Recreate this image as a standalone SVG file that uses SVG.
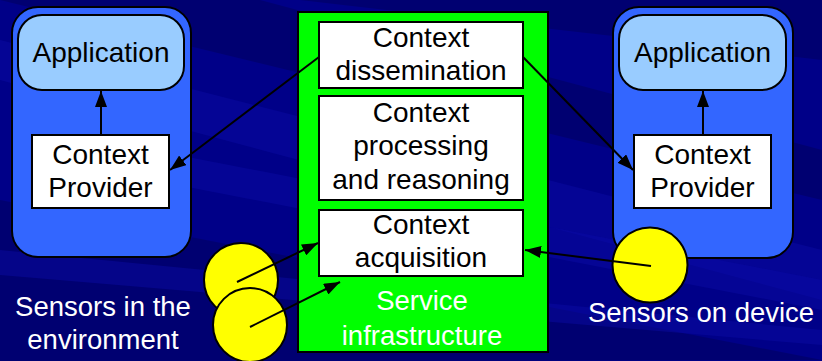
<svg xmlns="http://www.w3.org/2000/svg" width="822" height="361" viewBox="0 0 822 361">
<defs>
<style>
.bg{fill:#000088}
.streak{fill:#0c0ca6;opacity:0.45}
.dark{fill:#00005e;opacity:0.55}
.dev{fill:#3366ff;stroke:#000;stroke-width:2}
.app{fill:#99ccff;stroke:#000;stroke-width:2}
.box{fill:#fff;stroke:#000;stroke-width:2}
.infra{fill:#00ff00;stroke:#000;stroke-width:2}
.sensor{fill:#ffff00;stroke:#000;stroke-width:2}
.t{font-family:"Liberation Sans",Arial,sans-serif;font-size:28px;fill:#000;text-anchor:middle}
.w{font-family:"Liberation Sans",Arial,sans-serif;font-size:27.5px;fill:#fff;text-anchor:middle}
.c{fill:none;stroke:#000;stroke-width:2}
</style>
<marker id="ah" viewBox="0 0 16 12" refX="16" refY="6" markerWidth="8" markerHeight="6" orient="auto" markerUnits="strokeWidth">
<path d="M0,0 L16,6 L0,12 z" fill="#000"/>
</marker>
</defs>
<rect class="bg" x="0" y="0" width="822" height="361"/>
<polygon class="dark" points="0,0 822,0 822,60 300,0"/>
<polygon class="dark" points="0,0 260,0 822,150 822,200"/>
<polygon class="streak" points="0,40 822,250 822,300 0,80"/>
<polygon class="streak" points="100,140 822,280 822,310 100,170"/>
<polygon class="dark" points="0,200 822,360 0,361"/>
<polygon class="streak" points="0,250 822,330 822,345 0,275"/>

<g id="left-device">
<rect class="dev" x="12" y="7" width="179" height="250" rx="26"/>
</g>
<g id="left-application">
<rect class="app" x="18" y="15" width="166" height="75" rx="24"/>
<text class="t" x="101" y="62">Application</text>
</g>
<g id="left-provider">
<rect class="box" x="32" y="135" width="137" height="73"/>
<text class="t" x="100.5" y="164">Context</text>
<text class="t" x="100.5" y="197">Provider</text>
</g>

<g id="right-device">
<rect class="dev" x="613" y="7" width="180" height="251" rx="26"/>
</g>
<g id="right-application">
<rect class="app" x="619" y="15" width="167" height="75" rx="24"/>
<text class="t" x="702.5" y="62">Application</text>
</g>
<g id="right-provider">
<rect class="box" x="634" y="135" width="137" height="73"/>
<text class="t" x="702.5" y="164">Context</text>
<text class="t" x="702.5" y="197">Provider</text>
</g>

<g id="service-infrastructure">
<rect class="infra" x="298" y="12" width="250" height="340"/>
<text class="w" x="422" y="310">Service</text>
<text class="w" x="422" y="345">infrastructure</text>
</g>
<g id="context-dissemination">
<rect class="box" x="319" y="22" width="204" height="66"/>
<text class="t" x="421" y="47">Context</text>
<text class="t" x="421" y="80">dissemination</text>
</g>
<g id="context-processing">
<rect class="box" x="319" y="96" width="204" height="104"/>
<text class="t" x="421" y="122">Context</text>
<text class="t" x="421" y="155">processing</text>
<text class="t" x="421" y="189">and reasoning</text>
</g>
<g id="context-acquisition">
<rect class="box" x="319" y="210" width="204" height="66"/>
<text class="t" x="421" y="234">Context</text>
<text class="t" x="421" y="267">acquisition</text>
</g>

<g id="sensors-environment">
<circle class="sensor" cx="241" cy="280" r="37"/>
<circle class="sensor" cx="250" cy="325" r="37"/>
<text class="w" x="103" y="316">Sensors in the</text>
<text class="w" x="103" y="349">environment</text>
</g>
<g id="sensor-device">
<circle class="sensor" cx="650" cy="265" r="37.5"/>
<text class="w" x="701" y="322">Sensors on device</text>
</g>

<g id="connectors">
<line class="c" x1="101" y1="135" x2="101" y2="91" marker-end="url(#ah)"/>
<line class="c" x1="703" y1="135" x2="703" y2="91" marker-end="url(#ah)"/>
<line class="c" x1="319" y1="57" x2="170" y2="170" marker-end="url(#ah)"/>
<line class="c" x1="523" y1="57" x2="633" y2="170" marker-end="url(#ah)"/>
<line class="c" x1="237" y1="282" x2="318" y2="243" marker-end="url(#ah)"/>
<line class="c" x1="250" y1="327" x2="340" y2="282" marker-end="url(#ah)"/>
<line class="c" x1="651" y1="266" x2="525" y2="250" marker-end="url(#ah)"/>
</g>
</svg>
